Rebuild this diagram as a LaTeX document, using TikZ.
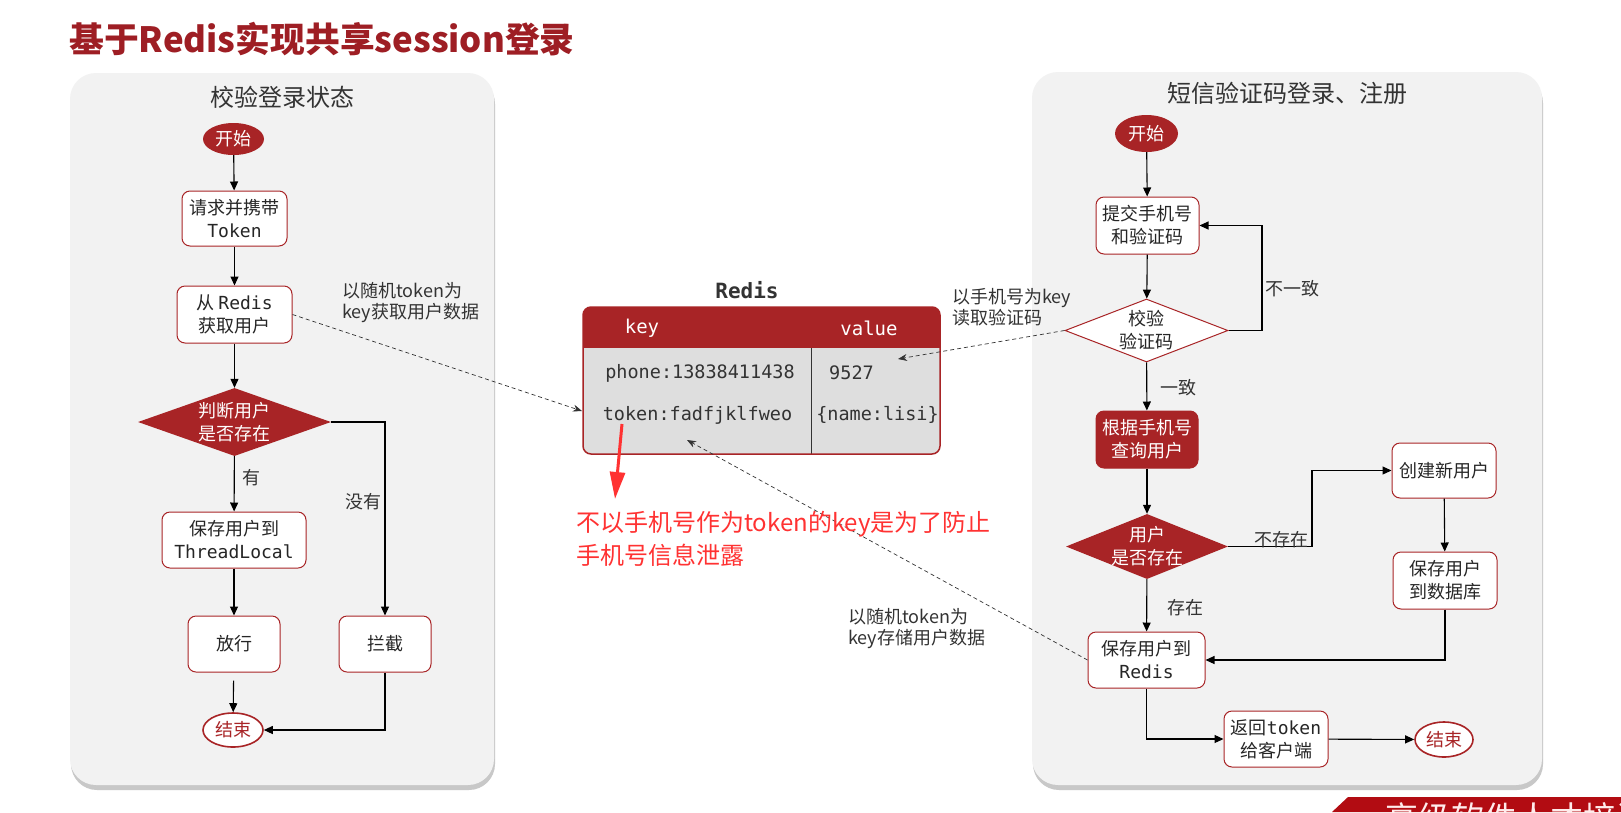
\documentclass[tikz,border=0pt]{standalone}
\usepackage{fontspec}
\setmainfont{Noto Sans CJK SC}
\newfontfamily\monof{DejaVu Sans Mono}
\usepackage{tikz}
\usetikzlibrary{arrows.meta,shapes.geometric,shadows}
\definecolor{hmred}{RGB}{168,36,38}
\definecolor{titlered}{RGB}{158,30,36}
\definecolor{panelgray}{RGB}{242,242,242}
\definecolor{cellgray}{RGB}{222,222,222}
\definecolor{inkgray}{RGB}{51,51,51}
\definecolor{alertred}{RGB}{255,50,50}
\definecolor{bannerred}{RGB}{178,12,18}
\begin{document}
\begin{tikzpicture}[x=1pt,y=-1pt,
  nfont/.style={font=\fontsize{18}{23}\selectfont},
  box/.style={draw=hmred,line width=1pt,fill=white,rounded corners=8pt,inner sep=0pt,align=center,text=black!85,nfont},
  rbox/.style={box,fill=hmred,text=white},
  startnode/.style={ellipse,fill=hmred,text=white,inner sep=0pt,minimum width=61pt,minimum height=32pt,nfont},
  endnode/.style={ellipse,draw=hmred,line width=1.6pt,fill=white,text=hmred,inner sep=0pt,minimum width=60pt,minimum height=34pt,nfont},
  rdia/.style={diamond,aspect=2.5,fill=hmred,text=white,inner sep=-10pt,align=center,nfont},
  wdia/.style={rdia,fill=white,draw=hmred,line width=1pt,text=black!85},
  flow/.style={-{Triangle[length=9pt,width=8pt]},line width=1.1pt,black},
  dashflow/.style={-{Stealth[length=9pt,width=7pt]},dash pattern=on 4pt off 3pt,line width=0.7pt,inkgray},
  lbl/.style={inner sep=0pt,text=inkgray,nfont},
  note/.style={inner sep=0pt,anchor=west,align=left,text=inkgray,font=\fontsize{18}{21}\selectfont},
  panel/.style={fill=panelgray,rounded corners=26pt,drop shadow={shadow xshift=1pt,shadow yshift=-5pt,opacity=0.3,fill=black!70}},
  ptitle/.style={inner sep=0pt,text=inkgray,font=\fontsize{24}{28}\selectfont},
  cell/.style={inner sep=0pt,text=inkgray,font=\fontsize{18.5}{22}\monof}]

  \useasboundingbox (0,0) rectangle (1621,812);
  \fill[white] (0,0) rectangle (1621,812);

  \node[anchor=west,inner sep=0pt,text=titlered,font=\fontsize{34.8}{40}\selectfont\bfseries] (title) at (69,39) {基于Redis实现共享session登录};

  % panels
  \path[panel] (70,73) rectangle (494,785);
  \path[panel] (1032,72) rectangle (1542,785);
  \node[ptitle] (ltitle) at (282.5,97) {校验登录状态};
  \node[ptitle] (rtitle) at (1287.5,93) {短信验证码登录、注册};

  % left flow
  \node[startnode] (lstart) at (233.5,139) {开始};
  \node[box,minimum width=105pt,minimum height=55pt] (req) at (234.5,218.5) {请求并携带\\{\monof Token}};
  \node[box,minimum width=115pt,minimum height=57pt] (fetch) at (234.5,314.5) {从 {\monof Redis}\\获取用户};
  \node[rdia,minimum width=193pt,minimum height=68pt] (judge) at (234.5,422) {判断用户\\是否存在};
  \node[box,minimum width=144pt,minimum height=56pt] (tl) at (234,540) {保存用户到\\{\monof ThreadLocal}};
  \node[box,minimum width=92pt,minimum height=56pt] (pass) at (234,644) {放行};
  \node[box,minimum width=92pt,minimum height=56pt] (block) at (385,644) {拦截};
  \node[endnode] (lend) at (233,730) {结束};

  \draw[flow] (lstart) -- (req);
  \draw[flow] (req) -- (fetch);
  \draw[flow] (fetch) -- (judge);
  \draw[flow] (judge) -- node[lbl,anchor=west,pos=0.39,xshift=8pt] {有} (tl);
  \draw[flow] (judge.east) -| node[lbl,anchor=east,pos=0.706,xshift=-3pt] {没有} (block);
  \draw[flow] (tl) -- (pass);
  \draw[flow,shorten <=8pt] (pass) -- (lend);
  \draw[flow] (block) |- (lend);

  % redis table
  \node[inner sep=0pt,text=inkgray,font=\fontsize{21}{24}\monof\bfseries] (rcap) at (747,290) {Redis};
  \begin{scope}
    \clip[rounded corners=8pt] (583,307) rectangle (940,454);
    \fill[cellgray] (583,307) rectangle (940,454);
    \fill[hmred] (583,307) rectangle (940,348);
  \end{scope}
  \draw[black!80,line width=1pt] (811,348) -- (811,454);
  \node[draw=hmred,line width=1.5pt,rounded corners=8pt,minimum width=357pt,minimum height=147pt,inner sep=0pt] (tbl) at (761.5,380.5) {};
  \node[cell,text=white,font=\fontsize{19}{22}\monof] (keyhd) at (642,328) {key};
  \node[cell,text=white,font=\fontsize{19}{22}\monof] (valhd) at (869,328) {value};
  \node[cell] (phonekey) at (700,373) {phone:13838411438};
  \node[cell] (phoneval) at (851.5,373) {9527};
  \node[cell] (tokenkey) at (697.5,415) {token:fadfjklfweo};
  \node[cell] (tokenval) at (877.5,415) {\{name:lisi\}};

  % right flow
  \node[startnode,minimum width=63pt,minimum height=37pt] (rstart) at (1146.5,133.5) {开始};
  \node[box,minimum width=103pt,minimum height=57pt] (submit) at (1147.5,225.5) {提交手机号\\和验证码};
  \node[wdia,minimum width=163pt,minimum height=63pt] (verify) at (1146.5,330.5) {校验\\验证码};
  \node[rbox,minimum width=102pt,minimum height=57pt] (query) at (1147,439.5) {根据手机号\\查询用户};
  \node[rdia,minimum width=162pt,minimum height=65pt] (exists) at (1147,546.5) {用户\\是否存在};
  \node[box,minimum width=104pt,minimum height=55pt] (create) at (1444,470.5) {创建新用户};
  \node[box,minimum width=104pt,minimum height=57pt] (savedb) at (1445,580.5) {保存用户\\到数据库};
  \node[box,minimum width=117pt,minimum height=56pt] (saveredis) at (1146.5,660) {保存用户到\\{\monof Redis}};
  \node[box,minimum width=104pt,minimum height=56pt] (ret) at (1276,739) {返回{\monof token}\\给客户端};
  \node[endnode,minimum width=58pt,minimum height=35pt] (rend) at (1444,739.5) {结束};

  \coordinate (loopc) at (1262,225.5);
  \coordinate (nocorner) at (1312,470.5);
  \draw[flow] (rstart) -- (submit);
  \draw[flow] (submit) -- (verify);
  \draw[flow] (verify.east) -| node[lbl,anchor=west,pos=0.7,xshift=3pt] {不一致} (loopc) -- (submit.east);
  \draw[flow] (verify) -- node[lbl,anchor=west,pos=0.53,xshift=13pt] {一致} (query);
  \draw[flow] (query) -- (exists);
  \draw[flow] (exists.east) -| node[lbl,anchor=east,pos=0.5,xshift=-3pt,yshift=7pt] {不存在} (nocorner) -- (create.west);
  \draw[flow] (create) -- (savedb);
  \draw[flow] (exists) -- node[lbl,anchor=west,pos=0.54,xshift=20pt] {存在} (saveredis);
  \draw[flow] (savedb) |- (saveredis);
  \draw[flow] (saveredis) |- (ret);
  \draw[flow] (ret) -- (rend);

  % redis access
  \coordinate (getpt) at (582,411);
  \coordinate (readpt) at (898,359);
  \coordinate (savept) at (687,440);
  \draw[dashflow] (fetch.east) -- (getpt);
  \draw[dashflow] (verify.west) -- (readpt);
  \draw[dashflow] (saveredis.west) -- (savept);
  \node[note] (getnote) at (342,302.5) {以随机token为\\key获取用户数据};
  \node[note] (readnote) at (952,307.5) {以手机号为key\\读取验证码};
  \node[note] (savenote) at (848,629) {以随机token为\\key存储用户数据};

  % warning
  \coordinate (warnfrom) at (622,424);
  \coordinate (warntip) at (615,499);
  \draw[alertred,line width=3pt,-{Triangle[length=27pt,width=15pt]}] (warnfrom) -- (warntip);
  \node[inner sep=0pt,anchor=west,align=left,text=alertred,font=\fontsize{24}{33}\selectfont] (warn) at (576,538.5) {不以手机号作为token的key是为了防止\\手机号信息泄露};

  % banner
  \begin{scope}
    \clip (0,0) rectangle (1621,812);
    \fill[bannerred] (1348,797) -- (1621,797) -- (1621,812) -- (1332,812) -- cycle;
    \node[anchor=north west,inner sep=0pt,text=white!92!red,font=\fontsize{33}{36}\selectfont] (brand) at (1385,802) {高级软件人才培训专家};
  \end{scope}
\end{tikzpicture}
\end{document}
